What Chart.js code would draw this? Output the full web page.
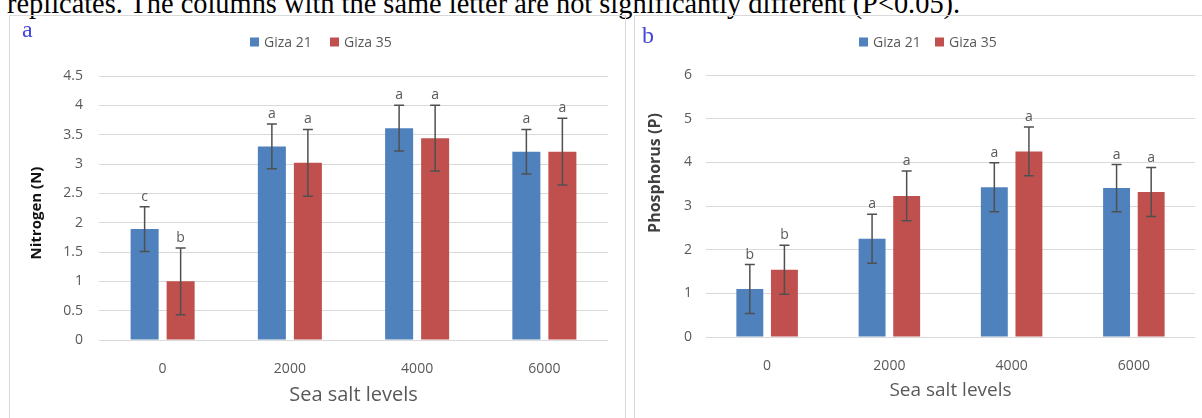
<!DOCTYPE html>
<html>
<head>
<meta charset="utf-8">
<script src="https://cdn.jsdelivr.net/npm/chart.js@4.4.1/dist/chart.umd.min.js"></script>
<style>
  body { margin: 0; width: 1202px; height: 418px; overflow: hidden; background: #fff; position: relative; }
  #caption { position: absolute; left: 7px; top: -10px; font: 28.4px "Liberation Serif"; line-height: 28px; white-space: nowrap; color: #000; }
  .panel { position: absolute; top: 15px; height: 420px; border: 1px solid #d9d9d9; background: transparent; }
  #panelA { left: 9px; width: 615px; }
  #panelB { left: 634px; width: 600px; }
  .tag { position: absolute; font: 24px "Liberation Serif"; line-height: 24px; color: #4346d6; }
  canvas { position: absolute; }
</style>
</head>
<body>
<div id="caption">replicates. The columns with the same letter are not significantly different (P&lt;0.05).</div>
<div class="panel" id="panelA"></div>
<div class="panel" id="panelB"></div>
<canvas id="chartN" width="614" height="402" style="left:10px;top:16px"></canvas>
<canvas id="chartP" width="567" height="402" style="left:635px;top:16px"></canvas>
<div class="tag" style="left:22px;top:17px">a</div>
<div class="tag" style="left:642px;top:23px">b</div>
<script>
const saltLevels = ["0", "2000", "4000", "6000"];
const seriesNames = ["Giza 21", "Giza 35"];

const nitrogen21 = [1.89, 3.30, 3.61, 3.21];
const nitrogen35 = [1.00, 3.02, 3.44, 3.21];
const nitrogenErr21 = [0.38, 0.38, 0.39, 0.38];
const nitrogenErr35 = [0.57, 0.57, 0.56, 0.57];
const nitrogenLetters21 = ["c", "a", "a", "a"];
const nitrogenLetters35 = ["b", "a", "a", "a"];
const nitrogenTicks = ["0", "0.5", "1", "1.5", "2", "2.5", "3", "3.5", "4", "4.5"];

const phosphorus21 = [1.10, 2.25, 3.43, 3.41];
const phosphorus35 = [1.54, 3.23, 4.25, 3.32];
const phosphorusErr21 = [0.56, 0.56, 0.56, 0.54];
const phosphorusErr35 = [0.56, 0.57, 0.56, 0.56];
const phosphorusLetters21 = ["b", "a", "a", "a"];
const phosphorusLetters35 = ["b", "a", "a", "a"];
const phosphorusTicks = ["0", "1", "2", "3", "4", "5", "6"];

const colors = ["#4f81bd", "#c0504d"];
const grey = "#595959";
const font = "Open Sans";

// error bars and letters above them
const errorBars = {
  id: "errorBars",
  afterDatasetsDraw(chart) {
    const ctx = chart.ctx;
    const y = chart.scales.y;
    chart.data.datasets.forEach((ds, i) => {
      chart.getDatasetMeta(i).data.forEach((bar, j) => {
        const top = y.getPixelForValue(ds.data[j] + ds.errors[j]);
        const bot = y.getPixelForValue(ds.data[j] - ds.errors[j]);
        ctx.save();
        ctx.strokeStyle = "#505050";
        ctx.lineWidth = 1.5;
        ctx.beginPath();
        ctx.moveTo(bar.x, top); ctx.lineTo(bar.x, bot);
        ctx.moveTo(bar.x - 5, top); ctx.lineTo(bar.x + 5, top);
        ctx.moveTo(bar.x - 5, bot); ctx.lineTo(bar.x + 5, bot);
        ctx.stroke();
        ctx.fillStyle = grey;
        ctx.font = "14px '" + font + "'";
        ctx.textAlign = "center";
        ctx.textBaseline = "alphabetic";
        ctx.fillText(ds.letters[j], bar.x, top - 6);
        ctx.restore();
      });
    });
  }
};

// legend squares and y title at fixed spots like the excel figure
const decor = {
  id: "decor",
  afterDraw(chart, args, opts) {
    const ctx = chart.ctx;
    ctx.save();
    chart.data.datasets.forEach((ds, i) => {
      const x = opts.legendX[i];
      ctx.fillStyle = ds.backgroundColor;
      ctx.fillRect(x, opts.legendY - 4.5, 9, 9);
      ctx.fillStyle = grey;
      ctx.font = "14px '" + font + "'";
      ctx.textAlign = "left";
      ctx.textBaseline = "middle";
      ctx.fillText(ds.label, x + 14, opts.legendY + 1);
    });
    ctx.translate(opts.titleX, opts.titleY);
    ctx.rotate(-Math.PI / 2);
    ctx.fillStyle = opts.titleColor;
    ctx.font = "bold " + opts.titleSize + "px '" + font + "'";
    ctx.textAlign = "center";
    ctx.textBaseline = "middle";
    ctx.fillText(opts.title, 0, 0);
    ctx.restore();
  }
};

function makeChart(id, v21, v35, e21, e35, l21, l35, ticks, cfg) {
  return new Chart(document.getElementById(id), {
    type: "bar",
    data: {
      labels: saltLevels,
      datasets: [
        { label: seriesNames[0], data: v21, errors: e21, letters: l21, backgroundColor: colors[0] },
        { label: seriesNames[1], data: v35, errors: e35, letters: l35, backgroundColor: colors[1] },
      ],
    },
    options: {
      responsive: false,
      animation: false,
      categoryPercentage: 0.566,
      barPercentage: 0.778,
      layout: { padding: { left: 0, right: cfg.padRight, top: cfg.padTop, bottom: 0 } },
      plugins: {
        legend: { display: false },
        tooltip: { enabled: false },
        decor: cfg.decor,
      },
      scales: {
        x: {
          grid: { display: false },
          border: { display: false },
          ticks: { color: grey, font: { family: font, size: 14 }, padding: 13 },
          title: {
            display: true,
            text: "Sea salt levels",
            color: grey,
            font: { family: font, size: cfg.xTitleSize },
            padding: { top: 0, bottom: cfg.xTitlePad },
          },
          afterFit(s) { s.height = cfg.xHeight; },
        },
        y: {
          min: 0,
          max: cfg.yMax,
          ticks: {
            stepSize: cfg.step,
            color: grey,
            font: { family: font, size: 14 },
            padding: cfg.yTickPad,
            callback: (v, i) => ticks[i],
          },
          grid: { color: "#d9d9d9", drawTicks: false },
          border: { display: false },
          afterFit(s) { s.width = cfg.yWidth; },
        },
      },
    },
    plugins: [errorBars, decor],
  });
}

makeChart("chartN", nitrogen21, nitrogen35, nitrogenErr21, nitrogenErr35,
  nitrogenLetters21, nitrogenLetters35, nitrogenTicks, {
    padRight: 16, padTop: 60, yMax: 4.5, step: 0.5, yWidth: 89, yTickPad: 16,
    xHeight: 78, xTitleSize: 20, xTitlePad: 11,
    decor: { legendX: [240, 320], legendY: 26, title: "Nitrogen (N)", titleX: 27, titleY: 197, titleSize: 15, titleColor: "#111" },
  });

makeChart("chartP", phosphorus21, phosphorus35, phosphorusErr21, phosphorusErr35,
  phosphorusLetters21, phosphorusLetters35, phosphorusTicks, {
    padRight: 7, padTop: 59, yMax: 6, step: 1, yWidth: 71, yTickPad: 14,
    xHeight: 81, xTitleSize: 19, xTitlePad: 16,
    decor: { legendX: [224, 300], legendY: 26, title: "Phosphorus (P)", titleX: 20, titleY: 157, titleSize: 16, titleColor: "#404040" },
  });
</script>
</body>
</html>
